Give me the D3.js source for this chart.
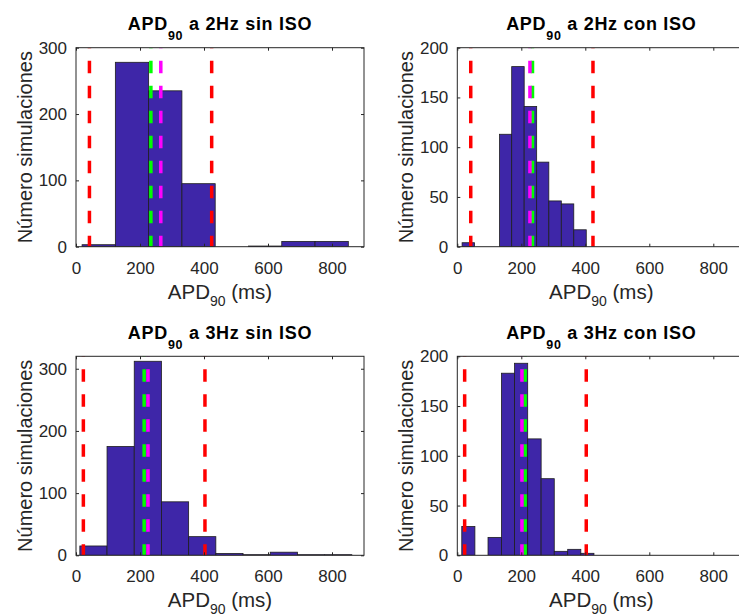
<!DOCTYPE html>
<html>
<head>
<meta charset="utf-8">
<script src="https://cdn.jsdelivr.net/npm/d3@7"></script>
<style>
  body { margin: 0; background: #fff; }
  svg { font-family: "Liberation Sans", Arial, Helvetica, sans-serif; }
  .tick text { fill: #262626; font-size: 17px; }
  .tick line { stroke: #262626; }
</style>
</head>
<body>
<div id="chart-area"></div>
<script>
// values
var xTicks = [0, 200, 400, 600, 800];

var titles = ["a 2Hz sin ISO", "a 2Hz con ISO", "a 3Hz sin ISO", "a 3Hz con ISO"];

// histogram bin edges (ms) and counts
var edges2sin = [19, 123, 227, 331, 435, 539, 643, 747, 851];
var counts2sin = [3, 278, 235, 95, 0, 1, 8, 8];

var edges2con = [15, 54, 93, 132, 170, 209, 248, 286, 325, 364, 403];
var counts2con = [4, 0, 0, 113, 181, 141, 85, 46, 43, 17];

var edges3sin = [12, 97, 182, 267, 352, 437, 522, 607, 692, 777, 862];
var counts3sin = [15, 175, 312, 86, 30, 3, 1, 5, 1, 1];

var edges3con = [14, 55, 96, 138, 179, 220, 262, 303, 345, 386, 427];
var counts3con = [29, 0, 18, 183, 193, 117, 77, 4, 6, 2];

// vertical reference lines (ms): [red low, red high], green, magenta
var red2sin = [42, 424], green2sin = 234, magenta2sin = 265;
var red2con = [42, 424], green2con = 235, magenta2con = 227;
var red3sin = [23, 403], green3sin = 213, magenta3sin = 225;
var red3con = [23, 403], green3con = 212, magenta3con = 202;

var yMax = [300, 200, 320, 200];
var yTicksA = [0, 100, 200, 300];
var yTicksB = [0, 50, 100, 150, 200];

var panels = [
    {title: titles[0], edges: edges2sin, counts: counts2sin, red: red2sin, green: green2sin, magenta: magenta2sin, ymax: yMax[0], yticks: yTicksA},
    {title: titles[1], edges: edges2con, counts: counts2con, red: red2con, green: green2con, magenta: magenta2con, ymax: yMax[1], yticks: yTicksB},
    {title: titles[2], edges: edges3sin, counts: counts3sin, red: red3sin, green: green3sin, magenta: magenta3sin, ymax: yMax[2], yticks: yTicksA},
    {title: titles[3], edges: edges3con, counts: counts3con, red: red3con, green: green3con, magenta: magenta3con, ymax: yMax[3], yticks: yTicksB}
];

var width = 739;
var height = 616;
var pw = 288;
var ph = 199;
var lefts = [76, 457.3];
var tops = [47.7, 356.3];

var svg = d3.select("#chart-area").append("svg")
    .attr("width", width)
    .attr("height", height);

panels.forEach(function(p, i){
    var col = i % 2, row = Math.floor(i / 2);
    var g = svg.append("g")
        .attr("transform", "translate(" + lefts[col] + "," + tops[row] + ")");

    var x = d3.scaleLinear().domain([0, 900]).range([0, pw]);
    var y = d3.scaleLinear().domain([0, p.ymax]).range([ph, 0]);

    var clip = "clip" + i;
    g.append("clipPath").attr("id", clip)
        .append("rect").attr("width", pw).attr("height", ph);

    var bins = p.counts.map(function(c, k){
        return {x0: p.edges[k], x1: p.edges[k + 1], n: c};
    });

    var plot = g.append("g").attr("clip-path", "url(#" + clip + ")");

    plot.selectAll("rect.bar").data(bins).enter().append("rect")
        .attr("class", "bar")
        .attr("x", function(d){ return x(d.x0); })
        .attr("y", function(d){ return y(d.n); })
        .attr("width", function(d){ return x(d.x1) - x(d.x0); })
        .attr("height", function(d){ return ph - y(d.n); })
        .attr("fill", "#3e26a8")
        .attr("stroke", "#1e1e1e")
        .attr("stroke-width", 0.8);

    var lines = [
        {v: p.red[0], c: "#ff0000"},
        {v: p.red[1], c: "#ff0000"},
        {v: p.green, c: "#00ff00"},
        {v: p.magenta, c: "#ff00ff"}
    ];
    plot.selectAll("line.ref").data(lines).enter().append("line")
        .attr("class", "ref")
        .attr("x1", function(d){ return x(d.v); })
        .attr("x2", function(d){ return x(d.v); })
        .attr("y1", y(p.ymax))
        .attr("y2", y(0))
        .attr("stroke", function(d){ return d.c; })
        .attr("stroke-width", 3.5)
        .attr("stroke-dasharray", "12.5,12.5")
        .attr("stroke-dashoffset", 12);

    // axes, ticks pointing inward (matlab style)
    g.append("g").attr("transform", "translate(0," + ph + ")")
        .call(d3.axisBottom(x).tickValues(xTicks).tickSize(-3).tickPadding(15));
    g.append("g")
        .call(d3.axisTop(x).tickValues(xTicks).tickSize(-3).tickFormat(""));
    g.append("g")
        .call(d3.axisLeft(y).tickValues(p.yticks).tickSize(-3).tickPadding(9));
    g.append("g").attr("transform", "translate(" + pw + ",0)")
        .call(d3.axisRight(y).tickValues(p.yticks).tickSize(-3).tickFormat(""));
    g.selectAll(".domain").remove();
    g.selectAll(".tick text").attr("font-family", null).attr("font-size", null);

    g.append("rect")
        .attr("width", pw).attr("height", ph)
        .attr("fill", "none")
        .attr("stroke", "#262626")
        .attr("stroke-width", 1);

    // title
    var t = g.append("text")
        .attr("x", pw / 2)
        .attr("y", -17.7)
        .attr("text-anchor", "middle")
        .attr("font-weight", "bold")
        .attr("font-size", "18px")
        .attr("letter-spacing", "0.7px")
        .attr("fill", "#000");
    t.append("tspan").text("APD");
    t.append("tspan").attr("dy", 10).attr("font-size", "12.5px").text("90");
    t.append("tspan").attr("dy", -10).text(" " + p.title);

    // x label
    var xl = g.append("text")
        .attr("x", pw / 2)
        .attr("y", ph + 52)
        .attr("text-anchor", "middle")
        .attr("font-size", "20.5px")
        .attr("fill", "#262626");
    xl.append("tspan").text("APD");
    xl.append("tspan").attr("dy", 7).attr("font-size", "14px").text("90");
    xl.append("tspan").attr("dy", -7).text(" (ms)");

    // y label
    g.append("text")
        .attr("transform", "rotate(-90)")
        .attr("x", -ph / 2)
        .attr("y", -44)
        .attr("text-anchor", "middle")
        .attr("font-size", "20px")
        .attr("fill", "#262626")
        .text("Número simulaciones");
});
</script>
</body>
</html>
